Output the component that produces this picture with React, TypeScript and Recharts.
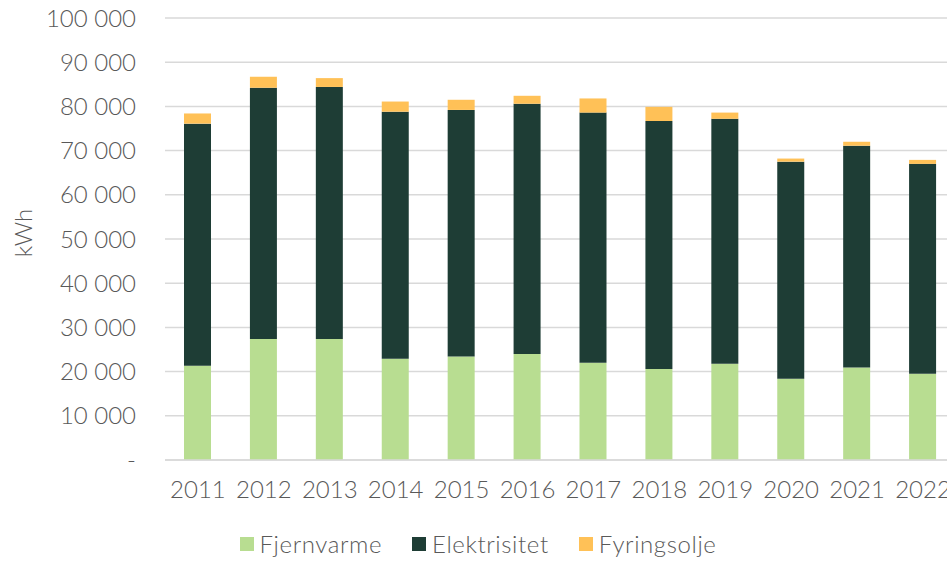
import React from 'react';
import { BarChart, Bar, XAxis, YAxis, CartesianGrid, Legend } from 'recharts';

const years = ['2011', '2012', '2013', '2014', '2015', '2016', '2017', '2018', '2019', '2020', '2021', '2022'];
const fjernvarme = [21300, 27400, 27400, 22900, 23400, 24000, 22000, 20600, 21800, 18400, 20900, 19500];
const elektrisitet = [54800, 56800, 57000, 55900, 55800, 56600, 56600, 56100, 55400, 49100, 50200, 47500];
const fyringsolje = [2300, 2500, 2000, 2300, 2300, 1800, 3200, 3200, 1400, 700, 900, 900];
const yTicks = [0, 10000, 20000, 30000, 40000, 50000, 60000, 70000, 80000, 90000, 100000];
const seriesOrder = ['Fjernvarme', 'Elektrisitet', 'Fyringsolje'];

const data = years.map((year, i) => ({
  year,
  fjernvarme: fjernvarme[i],
  elektrisitet: elektrisitet[i],
  fyringsolje: fyringsolje[i],
}));

const font = 'Lato, "Open Sans", sans-serif';
const textColor = '#595959';

const formatY = (v: number) => (v === 0 ? '-' : v.toLocaleString('en-US').replace(/,/g, ' '));

const renderLegend = (props: any) => {
  const items = [...props.payload].sort((a: any, b: any) => seriesOrder.indexOf(a.value) - seriesOrder.indexOf(b.value));
  return (
    <div style={{ display: 'flex', justifyContent: 'center', gap: 30, fontFamily: font, fontWeight: 300, fontSize: 24, letterSpacing: 0.6, color: textColor, paddingLeft: 0, lineHeight: '24px' }}>
      {items.map((entry: any) => (
        <div key={entry.value} style={{ display: 'flex', alignItems: 'center' }}>
          <span style={{ display: 'inline-block', width: 14, height: 14, background: entry.color, marginRight: 6 }} />
          <span>{entry.value}</span>
        </div>
      ))}
    </div>
  );
};

const renderYLabel = (props: any) => {
  const { viewBox } = props;
  const cx = 22;
  const cy = viewBox.y + viewBox.height / 2 - 6;
  return (
    <text x={cx} y={cy} transform={`rotate(-90, ${cx}, ${cy})`} textAnchor="middle" dominantBaseline="central" fill={textColor} fontSize={24} fontFamily={font} fontWeight={300}>
      kWh
    </text>
  );
};

export default function App() {
  return (
    <div style={{ position: 'absolute', left: 0, top: 0, width: 947, height: 561, overflow: 'hidden', background: '#fff' }}>
      <BarChart width={960} height={561} data={data} margin={{ top: 18, right: 4, left: 0, bottom: 3 }} barSize={27}>
        <CartesianGrid vertical={false} stroke="#d9d9d9" strokeWidth={1.5} />
        <XAxis
          dataKey="year"
          axisLine={{ stroke: '#d9d9d9', strokeWidth: 1.5 }}
          tickLine={false}
          tickSize={0}
          tickMargin={21}
          height={72}
          tick={{ fill: textColor, fontSize: 24, fontFamily: font, fontWeight: 300 }}
          interval={0}
        />
        <YAxis
          domain={[0, 100000]}
          ticks={yTicks}
          tickFormatter={formatY}
          axisLine={false}
          tickLine={false}
          tickSize={0}
          tickMargin={29}
          width={165}
          tick={{ fill: textColor, fontSize: 24, fontFamily: font, fontWeight: 300 }}
          label={{ content: renderYLabel }}
        />
        <Legend verticalAlign="bottom" height={26} content={renderLegend} />
        <Bar dataKey="fjernvarme" name="Fjernvarme" stackId="a" fill="#b8dd91" isAnimationActive={false} />
        <Bar dataKey="elektrisitet" name="Elektrisitet" stackId="a" fill="#1e3d35" isAnimationActive={false} />
        <Bar dataKey="fyringsolje" name="Fyringsolje" stackId="a" fill="#ffc157" isAnimationActive={false} />
      </BarChart>
    </div>
  );
}
